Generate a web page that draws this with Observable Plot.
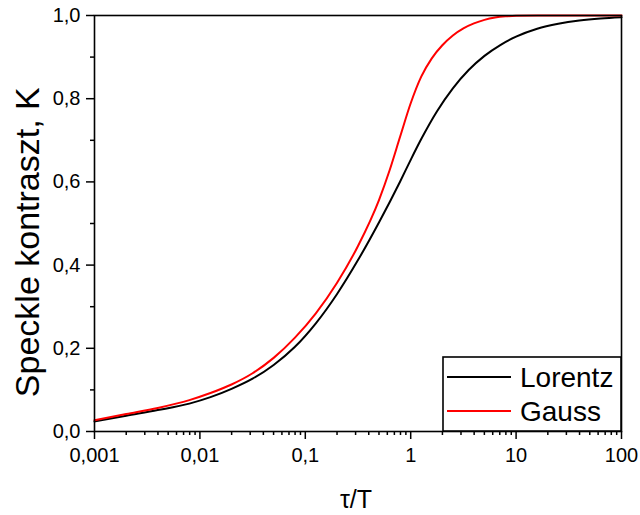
<!DOCTYPE html>
<html>
<head>
<meta charset="utf-8">
<script src="https://cdn.jsdelivr.net/npm/d3@7"></script>
<script src="https://cdn.jsdelivr.net/npm/@observablehq/plot@0.6"></script>
<style>
  html, body { margin: 0; padding: 0; background: #fff; }
</style>
</head>
<body>
<div id="chart"></div>
<script>
// Data (τ/T on a log axis, K linear)
const lorentzTau = [0.001, 0.002, 0.00398, 0.00794, 0.0126, 0.01995, 0.0316, 0.0501, 0.0794, 0.1259, 0.1995, 0.3162, 0.5012, 0.7943, 1, 1.259, 1.778, 2.512, 3.548, 5.012, 7.079, 10, 15.85, 25.12, 39.81, 63.1, 100];
const lorentzK   = [0.024, 0.038, 0.0515, 0.067, 0.0825, 0.1025, 0.127, 0.160, 0.203, 0.260, 0.330, 0.412, 0.503, 0.601, 0.653, 0.703, 0.770, 0.825, 0.869, 0.903, 0.929, 0.949, 0.968, 0.980, 0.988, 0.993, 0.996];

const gaussTau = [0.001, 0.002, 0.00398, 0.00794, 0.0126, 0.01995, 0.0316, 0.0501, 0.0794, 0.1259, 0.1995, 0.3162, 0.5012, 0.631, 0.7943, 1, 1.259, 1.585, 1.995, 2.512, 3.162, 3.981, 5.012, 6.31, 7.943, 10, 15.85, 100];
const gaussK   = [0.027, 0.042, 0.0567, 0.0755, 0.0925, 0.113, 0.140, 0.177, 0.225, 0.284, 0.357, 0.446, 0.557, 0.628, 0.709, 0.789, 0.853, 0.897, 0.9285, 0.952, 0.969, 0.981, 0.9895, 0.995, 0.998, 0.9995, 1.0, 1.0];

const seriesNames = ["Lorentz", "Gauss"];
const seriesColors = ["#000000", "#ff0000"];

const xMajorTicks = [0.001, 0.01, 0.1, 1, 10, 100];
const xMajorLabels = ["0,001", "0,01", "0,1", "1", "10", "100"];
const yMajorTicks = [0, 0.2, 0.4, 0.6, 0.8, 1.0];
const yMajorLabels = ["0,0", "0,2", "0,4", "0,6", "0,8", "1,0"];
const yMinorTicks = [0.1, 0.3, 0.5, 0.7, 0.9];

const xTitle = "τ/T";
const yTitle = "Speckle kontraszt, K";

// minor log ticks 2..9 for each decade
const xMinorTicks = [];
for (let e = -3; e < 2; e++) for (let m = 2; m <= 9; m++) xMinorTicks.push(+(m * Math.pow(10, e)).toPrecision(3));

const lorentz = lorentzTau.map((t, i) => ({t, k: lorentzK[i]}));
const gauss = gaussTau.map((t, i) => ({t, k: gaussK[i]}));

const font = "'Liberation Sans', Arial, sans-serif";

const plot = Plot.plot({
  width: 640,
  height: 515,
  marginLeft: 94,
  marginRight: 19,
  marginTop: 15,
  marginBottom: 84,
  style: {fontFamily: font, background: "#fff", color: "#000"},
  x: {type: "log", domain: [0.001, 100], label: null},
  y: {domain: [0, 1], label: null},
  marks: [
    Plot.axisY({ticks: yMajorTicks, tickFormat: d => yMajorLabels[yMajorTicks.indexOf(d)], tickSize: 8, tickPadding: 6, fontSize: 20, strokeWidth: 1.5, label: null}),
    Plot.axisY({ticks: yMinorTicks, tickFormat: () => "", tickSize: 4, strokeWidth: 1.5, label: null}),
    Plot.axisX({ticks: xMajorTicks, tickFormat: d => xMajorLabels[xMajorTicks.indexOf(d)], tickSize: 8, tickPadding: 8, fontSize: 20, strokeWidth: 1.5, label: null}),
    Plot.axisX({ticks: xMinorTicks, tickFormat: () => "", tickSize: 4, strokeWidth: 1.5, label: null}),
    Plot.line(lorentz, {x: "t", y: "k", stroke: seriesColors[0], strokeWidth: 2, curve: "monotone-x"}),
    Plot.line(gauss, {x: "t", y: "k", stroke: seriesColors[1], strokeWidth: 2, curve: "monotone-x"}),
    Plot.frame({stroke: "#000", strokeWidth: 1.6}),
    Plot.text([yTitle], {frameAnchor: "left", rotate: -90, dx: -66, dy: 18.7, fontSize: 34, textAnchor: "middle", lineAnchor: "middle", fill: "#000"}),
    Plot.text([xTitle], {frameAnchor: "bottom", dx: -2, dy: 68, fontSize: 25, textAnchor: "middle", lineAnchor: "middle", fill: "#000"})
  ]
});

document.getElementById("chart").appendChild(plot);

// Legend box in the lower right corner of the frame
const svg = d3.select(plot);
const [x0, x1] = plot.scale("x").range;
const [y0] = plot.scale("y").range; // bottom
const boxW = x1 - 443, boxH = 74;
const lg = svg.append("g");
lg.append("rect").attr("x", x1 - boxW).attr("y", y0 - boxH).attr("width", boxW).attr("height", boxH)
  .attr("fill", "#fff").attr("stroke", "#000").attr("stroke-width", 1.6);
seriesNames.forEach((name, i) => {
  const ly = y0 - boxH + 20 + i * 34;
  const lx = x1 - boxW;
  lg.append("line").attr("x1", lx + 4).attr("x2", lx + 68).attr("y1", ly).attr("y2", ly)
    .attr("stroke", seriesColors[i]).attr("stroke-width", 2);
  lg.append("text").attr("x", lx + 77).attr("y", ly + 10).attr("font-size", 28)
    .attr("text-anchor", "start").attr("font-family", font).attr("fill", "#000").text(name);
});
</script>
</body>
</html>
